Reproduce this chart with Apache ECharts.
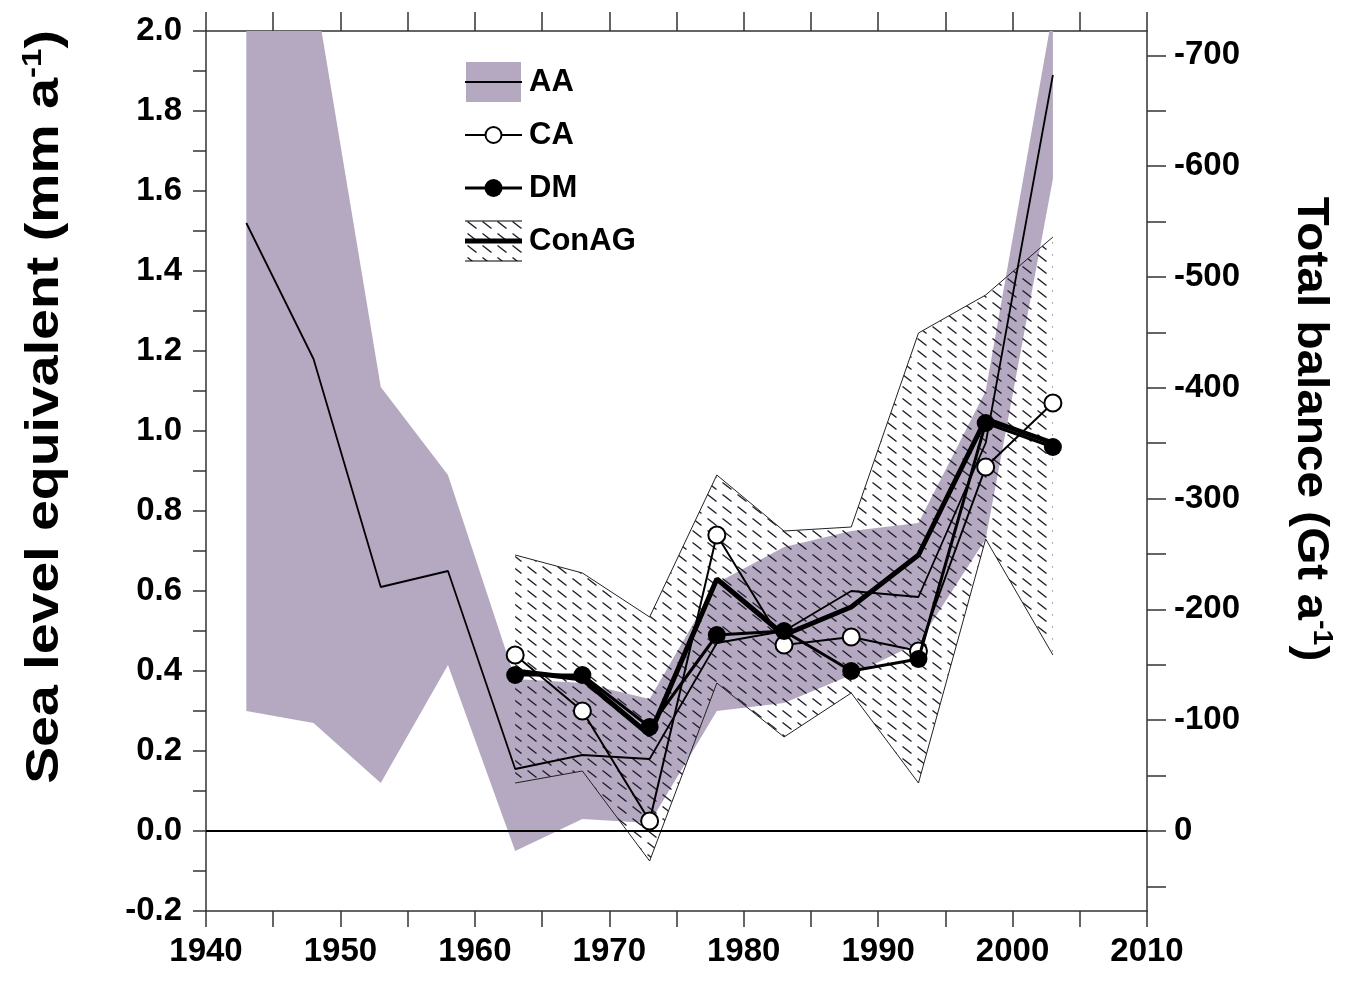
<!DOCTYPE html>
<html><head><meta charset="utf-8">
<script src="https://cdn.jsdelivr.net/npm/echarts@6/dist/echarts.min.js"></script>
<style>html,body{margin:0;padding:0;background:#fff}#c{width:1361px;height:992px}</style>
</head><body><div id="c"></div>
<script>
// ---- data (mm a-1 sea level equivalent) ----
const years = [1943,1948,1953,1958,1963,1968,1973,1978,1983,1988,1993,1998,2003];
const aaLine  = [1.52,1.18,0.61,0.65,0.155,0.19,0.18,0.47,0.50,0.60,0.585,0.97,1.89];
const aaUpper = [2.60,2.12,1.11,0.89,0.38,0.37,0.33,0.62,0.71,0.75,0.77,1.10,2.05];
const aaLower = [0.30,0.27,0.12,0.415,-0.05,0.03,0.02,0.30,0.32,0.39,0.47,0.73,1.63];
const pentads = [1963,1968,1973,1978,1983,1988,1993,1998,2003];
const caValues    = [0.44,0.30,0.025,0.74,0.465,0.485,0.45,0.91,1.07];
const dmValues    = [0.39,0.39,0.26,0.49,0.50,0.40,0.43,1.02,0.96];
const conagValues = [0.40,0.38,0.24,0.63,0.49,0.56,0.69,1.03,0.97];
const conagUpper  = [0.69,0.645,0.535,0.89,0.75,0.76,1.245,1.34,1.485];
const conagLower  = [0.12,0.15,-0.075,0.37,0.235,0.345,0.12,0.73,0.44];
const leftTicks = {min:-0.2, max:2.0, step:0.2};
const xTicks = {min:1940, max:2010, step:5};
const rightTickValues = [-700,-650,-600,-550,-500,-450,-400,-350,-300,-250,-200,-150,-100,-50,0,50];
const rightLabelValues = [-700,-600,-500,-400,-300,-200,-100,0];
const gtPerMm = 361;

const FONT = '"Liberation Sans", Arial, Helvetica, sans-serif';
const PURPLE = '#b5a8c1';

function pairs(xs, ys){ return xs.map((x,i)=>[x, ys[i]]); }

function hatchCanvas(){
  const c = document.createElement('canvas'); c.width = 15; c.height = 12;
  const g = c.getContext('2d');
  g.strokeStyle = '#1e1e2c'; g.lineWidth = 1.4; g.lineCap = 'butt';
  g.beginPath(); g.moveTo(2.5,2.5); g.lineTo(11.5,9.5); g.stroke();
  return c;
}
const hatch = hatchCanvas();

function icon(w, h, draw){
  const c = document.createElement('canvas'); c.width = w; c.height = h;
  const g = c.getContext('2d'); draw(g, w, h);
  return 'image://' + c.toDataURL();
}
const IW = 57, IH = 44;
const iconAA = icon(IW, IH, (g,w,h)=>{ g.fillStyle = PURPLE; g.fillRect(1,2,w-2,h-4); g.strokeStyle='#000'; g.lineWidth=2; g.beginPath(); g.moveTo(0,h/2); g.lineTo(w,h/2); g.stroke(); });
const iconCA = icon(IW, IH, (g,w,h)=>{ g.strokeStyle='#000'; g.lineWidth=2; g.beginPath(); g.moveTo(0,h/2); g.lineTo(w,h/2); g.stroke(); g.fillStyle='#fff'; g.beginPath(); g.arc(w/2,h/2,8,0,Math.PI*2); g.fill(); g.stroke(); });
const iconDM = icon(IW, IH, (g,w,h)=>{ g.strokeStyle='#000'; g.lineWidth=3; g.beginPath(); g.moveTo(0,h/2); g.lineTo(w,h/2); g.stroke(); g.fillStyle='#000'; g.beginPath(); g.arc(w/2,h/2,9,0,Math.PI*2); g.fill(); });
const iconCon = icon(IW, IH, (g,w,h)=>{
  g.fillStyle = g.createPattern(hatch, 'repeat'); g.fillRect(0,2,w,h-4);
  g.strokeStyle='#000'; g.lineWidth=1.2;
  g.beginPath(); g.moveTo(0,2); g.lineTo(w,2); g.moveTo(0,h-2); g.lineTo(w,h-2); g.stroke();
  g.lineWidth=5; g.beginPath(); g.moveTo(0,h/2); g.lineTo(w,h/2); g.stroke();
});

// band polygon drawn through the cartesian scales (api.coord)
function bandSeries(name, xs, lo, hi, fill, z){
  return {
    name, type:'custom', coordinateSystem:'cartesian2d', silent:true, z, clip:true,
    data:[[xs[0], lo[0]]],
    renderItem:(params, api)=>{
      const pts = [];
      xs.forEach((x,i)=>pts.push(api.coord([x, hi[i]])));
      for(let i=xs.length-1;i>=0;i--) pts.push(api.coord([xs[i], lo[i]]));
      const cs = params.coordSys;
      return {type:'polygon', shape:{points:pts}, style:{fill, stroke:null, lineWidth:0},
        clipPath:{type:'rect', shape:{x:cs.x, y:cs.y, width:cs.width, height:cs.height}}};
    }
  };
}

const axisLineStyle = {color:'#333', width:1.5};
const labelStyle = {color:'#000', fontFamily:FONT, fontWeight:'bold', fontSize:33};

const chart = echarts.init(document.getElementById('c'), null, {renderer:'canvas'});
chart.setOption({
  animation:false,
  backgroundColor:'#fff',
  grid:{left:206, right:214, top:31, bottom:81, containLabel:false},
  legend:{
    orient:'vertical', left:460, top:55, itemWidth:IW, itemHeight:IH, itemGap:9,
    selectedMode:false,
    textStyle:{color:'#000', fontFamily:FONT, fontWeight:'bold', fontSize:31, padding:[0,0,0,2]},
    data:[{name:'AA', icon:iconAA},{name:'CA', icon:iconCA},{name:'DM', icon:iconDM},{name:'ConAG', icon:iconCon}]
  },
  xAxis:[
    {type:'value', position:'bottom', min:xTicks.min, max:xTicks.max, interval:xTicks.step,
     axisLine:{show:true, onZero:false, lineStyle:axisLineStyle}, axisTick:{show:true, inside:false, length:16, lineStyle:axisLineStyle},
     axisLabel:{...labelStyle, margin:24, formatter:v=> (v%10===0? String(v):'')}, splitLine:{show:false}},
    {type:'value', position:'top', min:xTicks.min, max:xTicks.max, interval:xTicks.step,
     axisLine:{show:true, onZero:false, lineStyle:axisLineStyle}, axisTick:{show:true, inside:false, length:19, lineStyle:axisLineStyle},
     axisLabel:{show:false}, splitLine:{show:false}}
  ],
  yAxis:[
    {type:'value', position:'left', min:leftTicks.min, max:leftTicks.max, interval:leftTicks.step,
     axisLine:{show:true, onZero:false, lineStyle:axisLineStyle}, axisTick:{show:true, inside:false, length:13, lineStyle:axisLineStyle},
     minorTick:{show:true, splitNumber:2, length:13, lineStyle:axisLineStyle},
     axisLabel:{...labelStyle, margin:24, formatter:v=>v.toFixed(1)}, splitLine:{show:false}},
    {type:'value', position:'right', inverse:true, min:-leftTicks.max*gtPerMm, max:-leftTicks.min*gtPerMm,
     axisLine:{show:true, onZero:false, lineStyle:axisLineStyle},
     axisTick:{show:true, inside:false, length:19, lineStyle:axisLineStyle, customValues:rightTickValues},
     axisLabel:{...labelStyle, margin:27, customValues:rightLabelValues, formatter:v=>String(v)},
     splitLine:{show:false}}
  ],
  graphic:[
    {type:'text', x:45, y:407, rotation:Math.PI/2, scaleX:1.18, z:100,
     style:{text:'{t|Sea level equivalent (mm a}{s|-1}{t|)}', align:'center', verticalAlign:'middle',
      rich:{t:{fontFamily:FONT, fontWeight:'bold', fontSize:47, fill:'#000', lineHeight:52},
            s:{fontFamily:FONT, fontWeight:'bold', fontSize:28, fill:'#000', verticalAlign:'top', lineHeight:28}}}},
    {type:'text', x:1310, y:429, rotation:-Math.PI/2, scaleX:1.06, z:100,
     style:{text:'{t|Total balance (Gt a}{s|-1}{t|)}', align:'center', verticalAlign:'middle',
      rich:{t:{fontFamily:FONT, fontWeight:'bold', fontSize:45, fill:'#000', lineHeight:50},
            s:{fontFamily:FONT, fontWeight:'bold', fontSize:27, fill:'#000', verticalAlign:'top', lineHeight:27}}}}
  ],
  series:[
    bandSeries('AA band', years, aaLower, aaUpper, PURPLE, 1),
    bandSeries('ConAG band', pentads, conagLower, conagUpper, {image:hatch, repeat:'repeat'}, 2),
    {name:'ConAG lower', type:'line', data:pairs(pentads, conagLower), symbol:'none',
     lineStyle:{color:'#222', width:1}, silent:true, z:3},
    {name:'ConAG upper', type:'line', data:pairs(pentads, conagUpper), symbol:'none',
     lineStyle:{color:'#222', width:1}, silent:true, z:3},
    {name:'AA', type:'line', data:pairs(years, aaLine), symbol:'none', lineStyle:{color:'#000', width:1.8}, itemStyle:{color:'#000'}, silent:true, z:4,
     markLine:{silent:true, symbol:'none', label:{show:false}, lineStyle:{color:'#000', width:2, type:'solid'}, data:[{yAxis:0}]}},
    {name:'CA', type:'line', data:pairs(pentads, caValues), symbol:'circle', symbolSize:17, showSymbol:true,
     lineStyle:{color:'#000', width:2}, itemStyle:{color:'#fff', borderColor:'#000', borderWidth:2}, silent:true, z:5},
    {name:'ConAG', type:'line', data:pairs(pentads, conagValues), symbol:'none',
     lineStyle:{color:'#000', width:5}, itemStyle:{color:'#000'}, silent:true, z:6},
    {name:'DM', type:'line', data:pairs(pentads, dmValues), symbol:'circle', symbolSize:18, showSymbol:true,
     lineStyle:{color:'#000', width:3}, itemStyle:{color:'#000', borderWidth:0}, silent:true, z:7}
  ]
});
</script></body></html>
